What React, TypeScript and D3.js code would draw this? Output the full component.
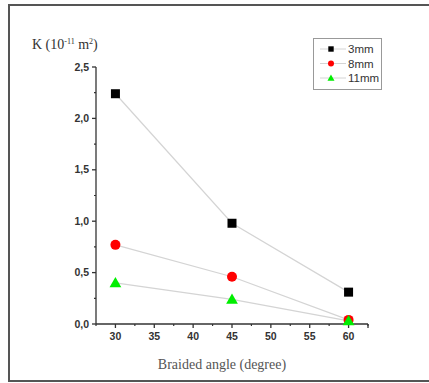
import React from "react";
import * as d3 from "d3";

const angles = [30, 45, 60];
const series3mm = [2.24, 0.98, 0.31];
const series8mm = [0.77, 0.46, 0.04];
const series11mm = [0.4, 0.24, 0.03];
const seriesNames = ["3mm", "8mm", "11mm"];
const seriesColors = ["#000000", "#ff0000", "#00ee00"];
const seriesShapes = ["square", "circle", "triangle"];
const xTicks = [30, 35, 40, 45, 50, 55, 60];
const yTicks = [0, 0.5, 1.0, 1.5, 2.0, 2.5];

const W = 429;
const H = 383;

function Marker({ shape, x, y, color, s = 1 }: any) {
  if (shape === "square") {
    const a = 9 * s;
    return <rect x={x - a / 2} y={y - a / 2} width={a} height={a} fill={color} />;
  }
  if (shape === "circle") {
    return <circle cx={x} cy={y} r={5 * s} fill={color} />;
  }
  const sym = d3.symbol().type(d3.symbolTriangle).size(60 * s * s)();
  return <path d={sym as string} transform={`translate(${x},${y + 1 * s})`} fill={color} />;
}

export default function App() {
  const x = d3.scaleLinear().domain([27.5, 62.5]).range([96, 368]);
  const y = d3.scaleLinear().domain([0, 2.5]).range([324, 67]);
  const all = [series3mm, series8mm, series11mm];
  const fmt = (v: number) => d3.format(".1f")(v).replace(".", ",");
  const line = d3
    .line<number>()
    .x((_, i) => x(angles[i]))
    .y((d) => y(d));
  const yMinor = d3.range(0.25, 2.5, 0.5);
  const xMinor = d3.range(27.5, 62.6, 2.5).filter((v) => !xTicks.includes(v));

  return (
    <div style={{ position: "absolute", left: 0, top: 0, width: W, height: H }}>
      <svg width={W} height={H} style={{ display: "block", background: "#fff" }}>
        {/* outer frame */}
        <line x1={9} x2={W} y1={5} y2={5} stroke="#555" strokeWidth={2} />
        <line x1={9} x2={W} y1={381} y2={381} stroke="#555" strokeWidth={2} />
        <line x1={9} x2={9} y1={4} y2={382} stroke="#555" strokeWidth={2} />

        {/* series lines */}
        {all.map((s, i) => (
          <path key={"l" + i} d={line(s) as string} fill="none" stroke="#d4d4d4" strokeWidth={1.2} />
        ))}

        {/* axes */}
        <line x1={96} x2={96} y1={y(2.5)} y2={y(0)} stroke="#333" strokeWidth={1.3} />
        <line x1={96} x2={368} y1={324} y2={324} stroke="#333" strokeWidth={1.3} />
        <line x1={368} x2={368} y1={324} y2={328} stroke="#333" strokeWidth={1.3} />
        {yTicks.map((t) => (
          <g key={"yt" + t}>
            <line x1={92} x2={96} y1={y(t)} y2={y(t)} stroke="#333" strokeWidth={1.3} />
            <text
              x={89}
              y={y(t) + 3.5}
              textAnchor="end"
              fontFamily="Liberation Sans, Arial, sans-serif"
              fontWeight="bold"
              fontSize={10.5}
              fill="#333"
            >
              {fmt(t)}
            </text>
          </g>
        ))}
        {yMinor.map((t) => (
          <line key={"ym" + t} x1={94} x2={96} y1={y(t)} y2={y(t)} stroke="#333" strokeWidth={1.2} />
        ))}
        {xTicks.map((t) => (
          <g key={"xt" + t}>
            <line x1={x(t)} x2={x(t)} y1={324} y2={328} stroke="#333" strokeWidth={1.3} />
            <text
              x={x(t)}
              y={340}
              textAnchor="middle"
              fontFamily="Liberation Sans, Arial, sans-serif"
              fontWeight="bold"
              fontSize={10.5}
              fill="#333"
            >
              {t}
            </text>
          </g>
        ))}
        {xMinor.map((t) => (
          <line key={"xm" + t} x1={x(t)} x2={x(t)} y1={324} y2={326} stroke="#333" strokeWidth={1.2} />
        ))}

        {/* markers */}
        {all.map((s, i) =>
          s.map((v, j) => (
            <Marker key={`m${i}-${j}`} shape={seriesShapes[i]} x={x(angles[j])} y={y(v)} color={seriesColors[i]} />
          ))
        )}

        {/* labels */}
        <text x={32} y={49} fontFamily="Liberation Serif, Times New Roman, serif" fontSize={14} fill="#333">
          K (10
          <tspan dy={-5} fontSize={8}>-11</tspan>
          <tspan dy={5}> m</tspan>
          <tspan dy={-5} fontSize={8}>2</tspan>
          <tspan dy={5}>)</tspan>
        </text>
        <text
          x={222}
          y={369}
          textAnchor="middle"
          fontFamily="Liberation Serif, Times New Roman, serif"
          fontSize={14}
          fill="#555"
        >
          Braided angle (degree)
        </text>

        {/* legend */}
        <rect x={313.5} y={38.5} width={68} height={51} fill="#fff" stroke="#999" strokeWidth={1} />
        {seriesNames.map((n, i) => {
          const ly = 49 + i * 14.5;
          return (
            <g key={"lg" + i}>
              <line x1={320} x2={346} y1={ly} y2={ly} stroke="#d4d4d4" strokeWidth={1} />
              <Marker shape={seriesShapes[i]} x={331} y={ly} color={seriesColors[i]} s={0.6} />
              <text
                x={348}
                y={ly + 4}
                fontFamily="Liberation Sans Narrow, Liberation Sans, Arial, sans-serif"
                fontSize={11.5}
                fill="#333"
              >
                {n}
              </text>
            </g>
          );
        })}
      </svg>
    </div>
  );
}
